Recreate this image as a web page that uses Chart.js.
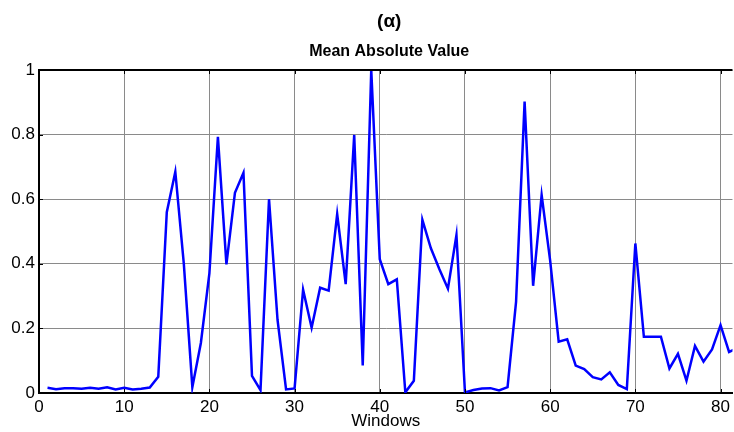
<!DOCTYPE html>
<html>
<head>
<meta charset="utf-8">
<script src="https://cdn.jsdelivr.net/npm/chart.js@4.4.1/dist/chart.umd.min.js"></script>
<style>
  html, body { margin: 0; padding: 0; background: #fff; }
</style>
</head>
<body>
<canvas id="chart" width="734" height="432"></canvas>
<script>
// Mean Absolute Value per window
const windows = [
  1, 2, 3, 4, 5, 6, 7, 8, 9, 10, 11, 12, 13, 14, 15, 16, 17, 18, 19, 20,
  21, 22, 23, 24, 25, 26, 27, 28, 29, 30, 31, 32, 33, 34, 35, 36, 37, 38, 39, 40,
  41, 42, 43, 44, 45, 46, 47, 48, 49, 50, 51, 52, 53, 54, 55, 56, 57, 58, 59, 60,
  61, 62, 63, 64, 65, 66, 67, 68, 69, 70, 71, 72, 73, 74, 75, 76, 77, 78, 79, 80,
  81, 82
];
const mav = [
  0.016, 0.012, 0.015, 0.015, 0.013, 0.016, 0.013, 0.018, 0.011, 0.016,
  0.011, 0.013, 0.017, 0.05, 0.56, 0.685, 0.40, 0.018, 0.155, 0.37,
  0.793, 0.398, 0.62, 0.682, 0.053, 0.009, 0.60, 0.226, 0.011, 0.014,
  0.32, 0.202, 0.326, 0.317, 0.554, 0.337, 0.799, 0.085, 1.0, 0.414,
  0.337, 0.352, 0.002, 0.038, 0.536, 0.448, 0.383, 0.323, 0.489, 0.002,
  0.009, 0.014, 0.015, 0.008, 0.018, 0.283, 0.902, 0.332, 0.613, 0.41,
  0.159, 0.166, 0.085, 0.074, 0.049, 0.042, 0.064, 0.025, 0.012, 0.463,
  0.174, 0.174, 0.174, 0.076, 0.121, 0.038, 0.146, 0.097, 0.135, 0.21,
  0.127, 0.14
];
const xTicks = [0, 10, 20, 30, 40, 50, 60, 70, 80];
const yTicks = [0, 0.2, 0.4, 0.6, 0.8, 1];

const FONT = '"Liberation Sans", Arial, sans-serif';

// top border + inward tick marks (matlab style box),
// and centre the titles over the (clipped) axes rather than the canvas
const framePlugin = {
  id: 'frame',
  afterLayout(chart) {
    chart.boxes.forEach(b => {
      if (b.position === 'top' && !b.axis) {
        b.left = chart.chartArea.left;
        b.right = chart.chartArea.right + 7;
      }
    });
  },
  afterDraw(chart) {
    const { ctx, chartArea: a, scales } = chart;
    ctx.save();
    ctx.strokeStyle = '#000';
    ctx.lineWidth = 2;
    ctx.beginPath();
    ctx.moveTo(a.left - 1, a.top);
    ctx.lineTo(a.right, a.top);
    ctx.stroke();
    ctx.lineWidth = 1;
    ctx.beginPath();
    xTicks.forEach(v => {
      const px = Math.round(scales.x.getPixelForValue(v)) + 0.5;
      ctx.moveTo(px, a.top);
      ctx.lineTo(px, a.top + 4);
      ctx.moveTo(px, a.bottom);
      ctx.lineTo(px, a.bottom - 4);
    });
    yTicks.forEach(v => {
      const py = Math.round(scales.y.getPixelForValue(v)) + 0.5;
      ctx.moveTo(a.left, py);
      ctx.lineTo(a.left + 4, py);
    });
    ctx.stroke();
    ctx.restore();
  }
};

new Chart(document.getElementById('chart'), {
  type: 'line',
  data: {
    datasets: [{
      data: windows.map((w, i) => ({ x: w, y: mav[i] })),
      borderColor: '#0000ff',
      borderWidth: 2.5,
      pointRadius: 0,
      tension: 0,
      fill: false
    }]
  },
  options: {
    responsive: false,
    animation: false,
    layout: { padding: 0 },
    plugins: {
      legend: { display: false },
      tooltip: { enabled: false },
      title: {
        display: true,
        text: '(\u03b1)',
        color: '#000',
        font: { family: FONT, size: 19, weight: 'bold' },
        padding: { top: 10, bottom: 8 }
      },
      subtitle: {
        display: true,
        text: 'Mean Absolute Value',
        color: '#000',
        font: { family: FONT, size: 16, weight: 'bold' },
        padding: { top: 1, bottom: 9 }
      }
    },
    scales: {
      x: {
        type: 'linear',
        min: 0,
        max: 81.4,
        afterFit: s => { s.height = 39; },
        afterBuildTicks: s => { s.ticks = xTicks.map(v => ({ value: v })); },
        ticks: {
          color: '#000',
          font: { family: FONT, size: 17 },
          padding: 4,
          maxRotation: 0
        },
        grid: { color: '#8a8a8a', lineWidth: 1, tickLength: 0 },
        border: { color: '#000', width: 2 },
        title: {
          display: true,
          text: 'Windows',
          color: '#000',
          font: { family: FONT, size: 17 },
          padding: { top: 0, bottom: 0 }
        }
      },
      y: {
        min: 0,
        max: 1,
        afterFit: s => { s.width = 39; },
        afterBuildTicks: s => { s.ticks = yTicks.map(v => ({ value: v })); },
        ticks: {
          color: '#000',
          font: { family: FONT, size: 17 },
          padding: 4,
          callback: v => String(v)
        },
        grid: { color: '#8a8a8a', lineWidth: 1, tickLength: 0 },
        border: { color: '#000', width: 2 }
      }
    }
  },
  plugins: [framePlugin]
});
</script>
</body>
</html>
